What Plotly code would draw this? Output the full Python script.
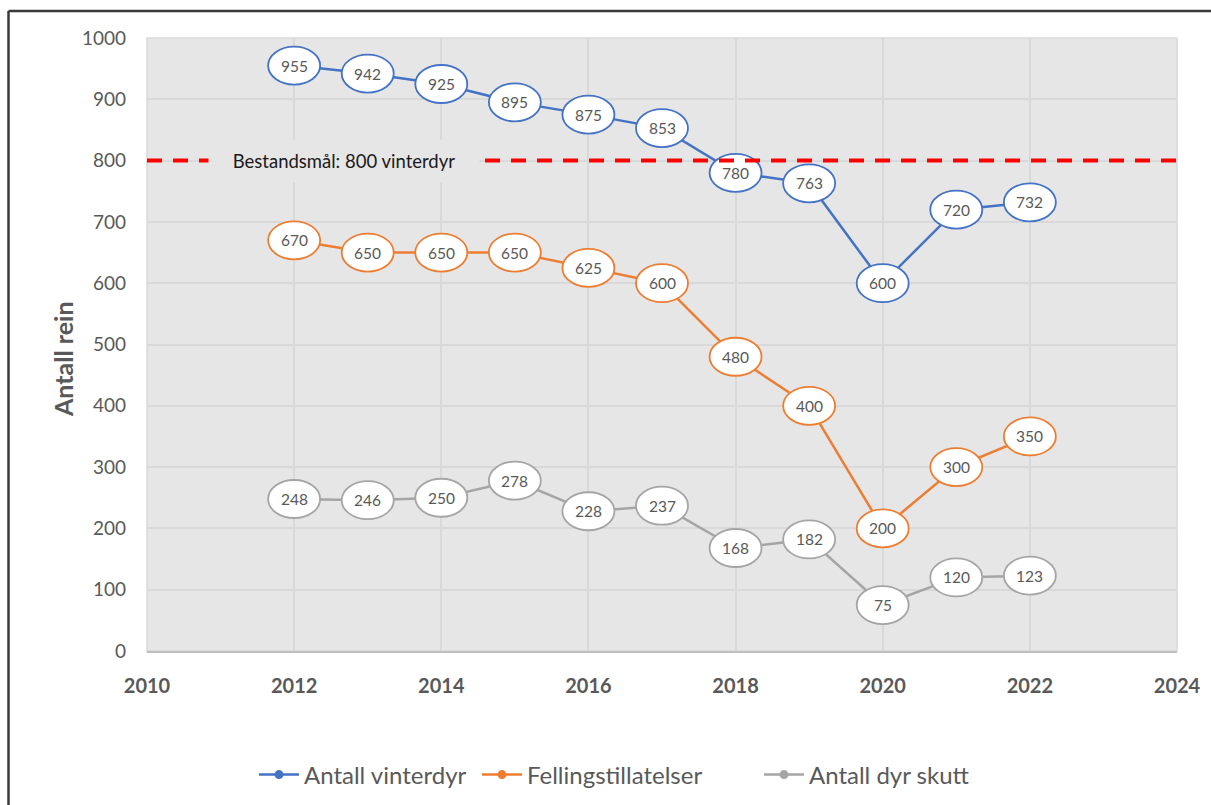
import plotly.graph_objects as go

years = [2012, 2013, 2014, 2015, 2016, 2017, 2018, 2019, 2020, 2021, 2022]
vinterdyr = [955, 942, 925, 895, 875, 853, 780, 763, 600, 720, 732]
felling = [670, 650, 650, 650, 625, 600, 480, 400, 200, 300, 350]
skutt = [248, 246, 250, 278, 228, 237, 168, 182, 75, 120, 123]
target = 800
target_label = "Bestandsmål: 800 vinterdyr"
y_title = "Antall rein"
series = [
    ("Antall vinterdyr", vinterdyr, "#4472C4"),
    ("Fellingstillatelser", felling, "#ED7D31"),
    ("Antall dyr skutt", skutt, "#A5A5A5"),
]

FONT = "Lato"
TXT = "#595959"
W, H = 1211, 805
L, R, T, B = 147, 34, 38, 154
pw, ph = W - L - R, H - T - B

def px_x(p):
    return (p - L) / pw

def px_y(p):
    return (H - B - p) / ph

legend_names = ["legend", "legend2", "legend3"]
legend_left = [254, 477, 759]

fig = go.Figure()
shapes = []
annotations = []
for (name, vals, col), lg in zip(series, legend_names):
    fig.add_trace(go.Scatter(
        x=years, y=vals, name=name, mode="lines+markers",
        line=dict(color=col, width=2.5),
        marker=dict(color=col, size=9),
        legend=lg,
    ))
    for yr, v in zip(years, vals):
        shapes.append(dict(
            type="circle", layer="above",
            xref="x", yref="y",
            xsizemode="pixel", ysizemode="pixel",
            xanchor=yr, yanchor=v,
            x0=-26, x1=26, y0=-19, y1=19,
            fillcolor="white", line=dict(color=col, width=1.8),
        ))
        annotations.append(dict(
            x=yr, y=v, xref="x", yref="y", text=str(v), showarrow=False,
            font=dict(family=FONT, size=15.5, color=TXT),
        ))

# target line
shapes.append(dict(
    type="line", layer="above", xref="paper", yref="y",
    x0=0, x1=1, y0=target, y1=target,
    line=dict(color="#FF0000", width=4, dash="15px,11px"),
))
# plot border
shapes.append(dict(type="rect", layer="below", xref="paper", yref="paper",
                   x0=0, x1=1, y0=0, y1=1, line=dict(color="#D9D9D9", width=1.5)))
# outer frame
shapes.append(dict(type="line", xref="paper", yref="paper",
                   x0=px_x(8.5), x1=px_x(8.5), y0=px_y(11), y1=px_y(820),
                   line=dict(color="#3B3838", width=2.5)))
shapes.append(dict(type="line", xref="paper", yref="paper",
                   x0=px_x(8.5), x1=px_x(1230), y0=px_y(11), y1=px_y(11),
                   line=dict(color="#3B3838", width=2.5)))

annotations.append(dict(
    x=2012.68, y=target, xref="x", yref="y", text=target_label,
    showarrow=False, font=dict(family=FONT, size=18.5, color="#1a1a1a"),
    bgcolor="#E7E6E6", borderpad=9, width=252, height=24, align="center",
))
annotations.append(dict(
    x=px_x(63), y=px_y(359), xref="paper", yref="paper", text=y_title,
    textangle=-90, showarrow=False, xanchor="center", yanchor="middle",
    font=dict(family=FONT, size=25, color=TXT, weight="bold"),
))

legend_common = dict(orientation="h", xanchor="left", y=px_y(775), yanchor="middle",
                     font=dict(family=FONT, size=24, color=TXT), itemwidth=40,
                     bgcolor="rgba(0,0,0,0)")

fig.update_layout(
    width=W, height=H,
    margin=dict(l=L, r=R, t=T, b=B, autoexpand=False),
    paper_bgcolor="white", plot_bgcolor="#E7E6E6",
    shapes=shapes, annotations=annotations,
    showlegend=True,
    legend=dict(x=px_x(legend_left[0]), **legend_common),
    legend2=dict(x=px_x(legend_left[1]), **legend_common),
    legend3=dict(x=px_x(legend_left[2]), **legend_common),
    font=dict(family=FONT, color=TXT),
)
fig.update_xaxes(
    range=[2010, 2024], dtick=2, tick0=2010,
    showgrid=True, gridcolor="#D9D9D9", gridwidth=1.5,
    zeroline=False, showline=True, linecolor="#BFBFBF", linewidth=1.5,
    tickfont=dict(family=FONT, size=20, color=TXT, weight="bold"),
    ticks="", ticklabelstandoff=16,
)
fig.update_yaxes(
    range=[0, 1000], dtick=100,
    showgrid=True, gridcolor="#D9D9D9", gridwidth=1.5,
    zeroline=False, showline=False,
    tickfont=dict(family=FONT, size=19, color=TXT),
    ticks="", ticklabelstandoff=20,
)

fig.write_html("out.html", config={"displayModeBar": False},
               post_script="document.body.style.margin='0';")
